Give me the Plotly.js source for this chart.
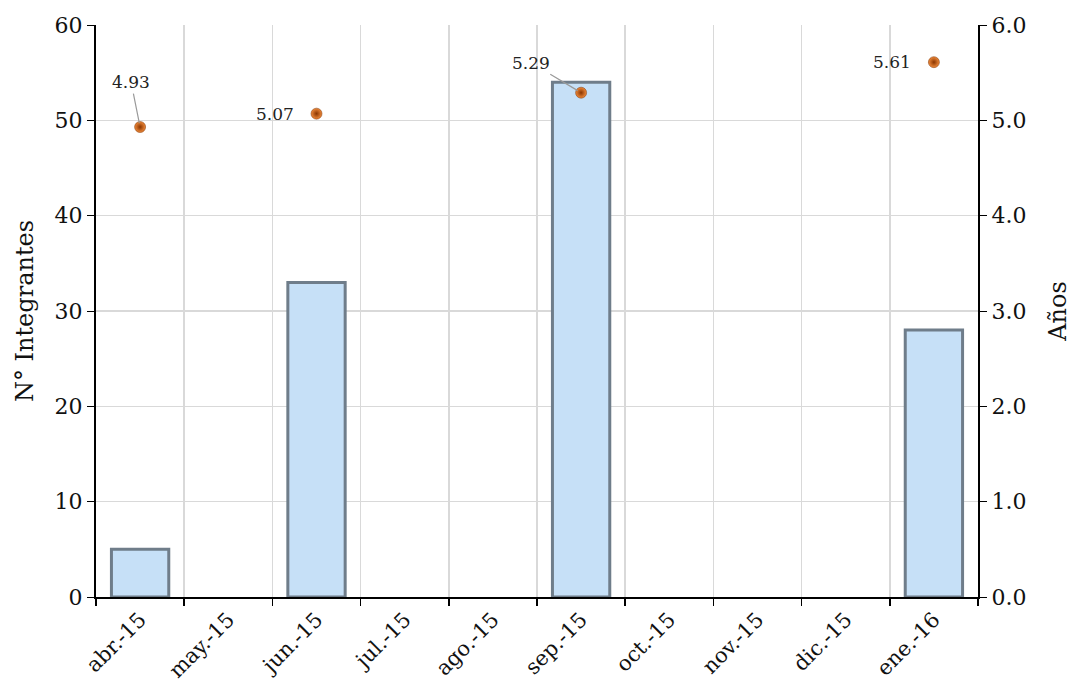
<!DOCTYPE html>
<html><head><meta charset="utf-8">
<script src="https://cdn.plot.ly/plotly-3.0.1.min.js"></script>
<style>html,body{margin:0;padding:0;background:#fff}#c{width:1072px;height:691px}</style>
</head><body><div id="c"></div>
<script>
const categories = ["abr.-15","may.-15","jun.-15","jul.-15","ago.-15","sep.-15","oct.-15","nov.-15","dic.-15","ene.-16"];
const barCats = ["abr.-15","jun.-15","sep.-15","ene.-16"];
const integrantes = [5, 33, 54, 28];
const anios = [4.93, 5.07, 5.29, 5.61];

const FONT = "DejaVu Serif, Liberation Serif, serif";

const traces = [
  {type:"bar", x:barCats, y:integrantes, yaxis:"y", name:"N° Integrantes",
   marker:{color:"#c6e0f7", line:{color:"#6f7d8a", width:3}}, hoverinfo:"x+y"},
  {type:"scatter", mode:"markers", x:barCats, y:anios, yaxis:"y2", name:"Años",
   marker:{size:11, color:"#f08a3a", gradient:{type:"radial", color:"#8a3500"}, line:{color:"#7a3000", width:0.5}}}
];

// label placement styles (offsets in px)
const labelStyle = [
  {showarrow:true, ax:-9, ay:-45},
  {showarrow:false, xshift:-42},
  {showarrow:true, ax:-50, ay:-30},
  {showarrow:false, xshift:-42}
];

const annotations = anios.map((v,i)=>Object.assign({
  x:barCats[i], y:v, xref:"x", yref:"y2", text:v.toFixed(2),
  arrowhead:0, arrowcolor:"#9a9a9a", arrowwidth:1.2, standoff:4,
  font:{family:FONT, size:17, color:"#222"}
}, labelStyle[i]));

const layout = {
  width:1072, height:691,
  margin:{l:96, r:94, t:25, b:94},
  paper_bgcolor:"#fff", plot_bgcolor:"#fff",
  showlegend:false,
  bargap:0.35,
  font:{family:FONT, color:"#111"},
  xaxis:{type:"category", categoryorder:"array", categoryarray:categories,
    range:[-0.5, 9.5], tickson:"boundaries", ticks:"outside", ticklen:7, tickcolor:"#000", tickwidth:1.5,
    showgrid:true, gridcolor:"#d9d9d9", gridwidth:1.5,
    showline:true, linecolor:"#000", linewidth:2,
    tickangle:-45, tickfont:{family:FONT, size:21, color:"#111"}},
  yaxis:{range:[0,60], dtick:10, showgrid:true, gridcolor:"#d9d9d9", gridwidth:1.5,
    showline:true, linecolor:"#000", linewidth:2, ticks:"outside", ticklen:7, tickcolor:"#000",
    tickfont:{family:FONT, size:22, color:"#111"}, zeroline:false,
    title:{text:"N° Integrantes", font:{family:FONT, size:24, color:"#111"}, standoff:14}},
  yaxis2:{range:[0,6], dtick:1, tickformat:".1f", overlaying:"y", side:"right",
    showgrid:false, showline:true, linecolor:"#000", linewidth:2, ticks:"outside", ticklen:7, tickcolor:"#000",
    tickfont:{family:FONT, size:22, color:"#111"}, zeroline:false,
    title:{text:"Años", font:{family:FONT, size:24, color:"#111"}, standoff:28}},
  annotations:annotations
};

Plotly.newPlot("c", traces, layout, {displayModeBar:false, staticPlot:true});
</script></body></html>
